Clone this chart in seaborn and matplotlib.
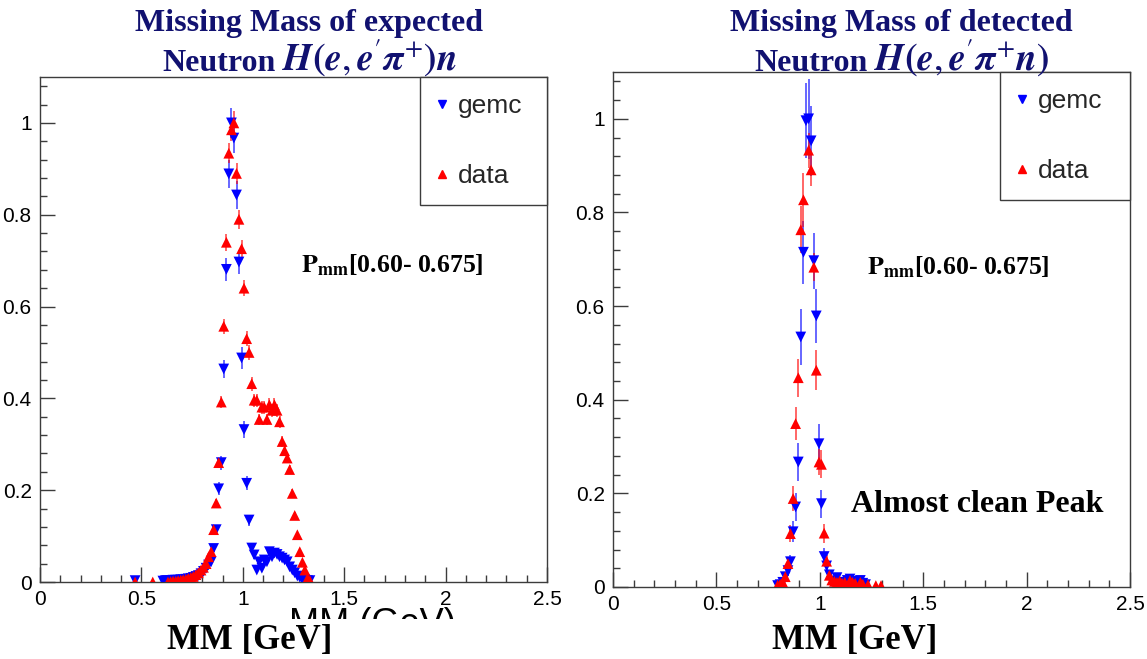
import numpy as np
import pandas as pd
import seaborn as sns
import matplotlib
matplotlib.use("Agg")
import matplotlib.pyplot as plt
from matplotlib.lines import Line2D
from matplotlib.patches import Rectangle
from matplotlib.ticker import MultipleLocator

# ---------------- data: left panel (expected neutron) ----------------
left_gemc_x = [0.469, 0.606, 0.619, 0.631, 0.644, 0.656, 0.669, 0.681, 0.694, 0.706,
               0.719, 0.731, 0.744, 0.756, 0.769, 0.781, 0.794, 0.806, 0.819, 0.831,
               0.844, 0.856, 0.869, 0.881, 0.894, 0.906, 0.919, 0.931, 0.944, 0.956,
               0.969, 0.981, 0.994, 1.006, 1.019, 1.031, 1.044, 1.056, 1.069, 1.081,
               1.094, 1.106, 1.119, 1.131, 1.144, 1.156, 1.169, 1.181, 1.194, 1.206,
               1.219, 1.231, 1.244, 1.256, 1.269, 1.281, 1.294, 1.306, 1.319, 1.331]
left_gemc_y = [0.003, 0.002, 0.003, 0.003, 0.003, 0.004, 0.004, 0.004, 0.005, 0.005,
               0.006, 0.007, 0.008, 0.010, 0.012, 0.014, 0.018, 0.023, 0.030, 0.037,
               0.044, 0.073, 0.114, 0.203, 0.260, 0.464, 0.681, 0.889, 1.000, 0.967,
               0.843, 0.697, 0.488, 0.332, 0.215, 0.135, 0.074, 0.059, 0.026, 0.044,
               0.030, 0.048, 0.044, 0.066, 0.055, 0.063, 0.060, 0.055, 0.052, 0.048,
               0.044, 0.033, 0.026, 0.020, 0.013, 0.010, 0.005, 0.005, 0.003, 0.003]
left_gemc_err = [0.002, 0.002, 0.002, 0.002, 0.002, 0.002, 0.002, 0.002, 0.002, 0.002,
                 0.002, 0.003, 0.003, 0.003, 0.003, 0.004, 0.004, 0.005, 0.005, 0.006,
                 0.006, 0.008, 0.010, 0.014, 0.015, 0.020, 0.025, 0.030, 0.033, 0.032,
                 0.030, 0.027, 0.023, 0.019, 0.015, 0.012, 0.009, 0.008, 0.005, 0.007,
                 0.006, 0.007, 0.007, 0.008, 0.007, 0.008, 0.008, 0.007, 0.007, 0.007,
                 0.007, 0.006, 0.005, 0.004, 0.004, 0.003, 0.002, 0.002, 0.002, 0.002]

left_data_x = [0.469, 0.556, 0.631, 0.644, 0.656, 0.669, 0.681, 0.694, 0.706, 0.719,
               0.731, 0.744, 0.756, 0.769, 0.781, 0.794, 0.806, 0.819, 0.831, 0.844,
               0.856, 0.869, 0.881, 0.894, 0.906, 0.919, 0.931, 0.944, 0.956, 0.969,
               0.981, 0.994, 1.006, 1.019, 1.031, 1.044, 1.056, 1.069, 1.081, 1.094,
               1.106, 1.119, 1.131, 1.144, 1.156, 1.169, 1.181, 1.194, 1.206, 1.219,
               1.231, 1.244, 1.256, 1.269, 1.281, 1.294, 1.306, 1.319, 1.331]
left_data_y = [0.000, 0.000, 0.000, 0.001, 0.002, 0.002, 0.003, 0.004, 0.005, 0.006,
               0.008, 0.010, 0.012, 0.016, 0.020, 0.026, 0.032, 0.040, 0.055, 0.066,
               0.114, 0.172, 0.260, 0.392, 0.557, 0.740, 0.934, 0.985, 1.000, 0.890,
               0.790, 0.726, 0.640, 0.530, 0.500, 0.432, 0.396, 0.396, 0.354, 0.381,
               0.381, 0.354, 0.386, 0.374, 0.386, 0.374, 0.349, 0.306, 0.286, 0.270,
               0.245, 0.193, 0.145, 0.103, 0.066, 0.043, 0.026, 0.008, 0.003]
left_data_err = [0.001, 0.001, 0.001, 0.001, 0.001, 0.001, 0.001, 0.001, 0.002, 0.002,
                 0.002, 0.002, 0.003, 0.003, 0.003, 0.004, 0.004, 0.005, 0.005, 0.006,
                 0.008, 0.009, 0.011, 0.013, 0.016, 0.019, 0.022, 0.024, 0.025, 0.022,
                 0.020, 0.019, 0.018, 0.016, 0.016, 0.015, 0.014, 0.014, 0.013, 0.014,
                 0.014, 0.013, 0.014, 0.014, 0.014, 0.014, 0.013, 0.012, 0.012, 0.011,
                 0.010, 0.009, 0.008, 0.007, 0.005, 0.004, 0.003, 0.002, 0.001]

# ---------------- data: right panel (detected neutron) ----------------
right_gemc_x = [0.796, 0.808, 0.821, 0.833, 0.846, 0.858, 0.871, 0.883, 0.896, 0.908,
                0.921, 0.933, 0.946, 0.958, 0.971, 0.983, 0.996, 1.008, 1.021, 1.033,
                1.046, 1.058, 1.071, 1.083, 1.096, 1.108, 1.121, 1.133, 1.146, 1.158,
                1.171, 1.183, 1.196, 1.208, 1.221]
right_gemc_y = [0.003, 0.005, 0.010, 0.022, 0.035, 0.054, 0.118, 0.171, 0.267, 0.534,
                0.715, 0.996, 1.000, 0.953, 0.697, 0.579, 0.306, 0.178, 0.065, 0.045,
                0.026, 0.012, 0.013, 0.020, 0.010, 0.008, 0.010, 0.014, 0.017, 0.012,
                0.010, 0.008, 0.014, 0.008, 0.005]
right_gemc_err = [0.003, 0.004, 0.006, 0.009, 0.012, 0.015, 0.022, 0.030, 0.041, 0.059,
                  0.067, 0.080, 0.085, 0.075, 0.060, 0.058, 0.043, 0.030, 0.018, 0.014,
                  0.011, 0.007, 0.007, 0.009, 0.006, 0.005, 0.006, 0.007, 0.008, 0.007,
                  0.006, 0.005, 0.007, 0.005, 0.004]

right_data_x = [0.796, 0.808, 0.821, 0.833, 0.846, 0.858, 0.871, 0.883, 0.896, 0.908,
                0.921, 0.946, 0.958, 0.971, 0.983, 0.996, 1.008, 1.021, 1.033, 1.046,
                1.058, 1.071, 1.083, 1.096, 1.108, 1.121, 1.146, 1.158, 1.171, 1.196,
                1.208, 1.233, 1.271, 1.296]
right_data_y = [0.004, 0.006, 0.010, 0.022, 0.050, 0.114, 0.189, 0.349, 0.447, 0.763,
                0.827, 0.933, 0.891, 0.683, 0.463, 0.267, 0.262, 0.115, 0.055, 0.025,
                0.015, 0.012, 0.010, 0.013, 0.008, 0.010, 0.014, 0.010, 0.008, 0.010,
                0.006, 0.005, 0.003, 0.003]
right_data_err = [0.003, 0.004, 0.006, 0.009, 0.013, 0.018, 0.027, 0.036, 0.041, 0.050,
                  0.058, 0.037, 0.035, 0.030, 0.043, 0.028, 0.030, 0.020, 0.013, 0.009,
                  0.007, 0.006, 0.006, 0.007, 0.005, 0.006, 0.007, 0.006, 0.005, 0.006,
                  0.004, 0.004, 0.003, 0.003]

series_labels = ["gemc", "data"]
x_ticks = [0, 0.5, 1, 1.5, 2, 2.5]
x_tick_labels = ["0", "0.5", "1", "1.5", "2", "2.5"]
y_ticks = [0, 0.2, 0.4, 0.6, 0.8, 1.0]
y_tick_labels = ["0", "0.2", "0.4", "0.6", "0.8", "1"]

title_line1 = ["Missing Mass of expected", "Missing Mass of detected"]
title_word = "Neutron"
title_math = [r"$\mathbfit{H}\mathbf{(}\mathbfit{e},\mathbfit{e}'\mathbfit{\pi}^{+}\mathbf{)}\mathbfit{n}$",
              r"$\mathbfit{H}\mathbf{(}\mathbfit{e},\mathbfit{e}'\mathbfit{\pi}^{+}\mathbfit{n}\mathbf{)}$"]
range_label = r"$\mathbf{P_{mm}}$[0.60- 0.675]"
x_label = "MM [GeV]"
note_label = "Almost clean Peak"

# ---------------- style ----------------
sns.set_theme(style="ticks")
plt.rcParams["font.family"] = ["Liberation Sans", "DejaVu Sans"]
plt.rcParams["mathtext.fontset"] = "stix"

BLUE = "#0000ff"
RED = "#ff0000"
NAVY = "#111170"
FRAME = "#3c3c3c"

W, H = 1147, 659
fig = plt.figure(figsize=(W / 100, H / 100), dpi=100)
fig.patch.set_facecolor("white")


def px_axes(x0, x1, ytop, ybot):
    return [x0 / W, (H - ybot) / H, (x1 - x0) / W, (ybot - ytop) / H]


ax_l = fig.add_axes(px_axes(40, 547, 77, 582))
ax_r = fig.add_axes(px_axes(613, 1130, 72, 587))


def draw_panel(ax, gx, gy, ge, dx, dy, de):
    df = pd.concat([
        pd.DataFrame({"mm": gx, "val": gy, "sample": series_labels[0]}),
        pd.DataFrame({"mm": dx, "val": dy, "sample": series_labels[1]}),
    ], ignore_index=True)
    ax.errorbar(gx, gy, yerr=ge, fmt="none", ecolor=BLUE, elinewidth=1.4,
                alpha=0.6, capsize=0, zorder=2)
    ax.errorbar(dx, dy, yerr=de, fmt="none", ecolor=RED, elinewidth=1.4,
                alpha=0.6, capsize=0, zorder=2)
    sns.scatterplot(data=df, x="mm", y="val", hue="sample", style="sample",
                    hue_order=series_labels, style_order=series_labels,
                    palette={"gemc": BLUE, "data": RED},
                    markers={"gemc": "v", "data": "^"},
                    s=60, linewidth=0, edgecolor="none", legend=False,
                    ax=ax, zorder=3)
    ax.set_xlim(0, 2.5)
    ax.set_ylim(0, 1.1)
    ax.set_xlabel("")
    ax.set_ylabel("")
    ax.set_xticks(x_ticks)
    ax.set_xticklabels(x_tick_labels)
    ax.set_yticks(y_ticks)
    ax.set_yticklabels(y_tick_labels)
    ax.xaxis.set_minor_locator(MultipleLocator(0.1))
    ax.yaxis.set_minor_locator(MultipleLocator(0.04))
    ax.tick_params(which="major", direction="in", length=11, width=1.0,
                   color=FRAME, labelsize=15, labelcolor="black")
    ax.tick_params(which="minor", direction="in", length=5, width=1.0, color=FRAME)
    ax.tick_params(axis="x", which="major", pad=6)
    ax.tick_params(axis="y", which="major", pad=6)
    for sp in ax.spines.values():
        sp.set_visible(True)
        sp.set_color(FRAME)
        sp.set_linewidth(1.0)
    handles = [
        Line2D([], [], linestyle="none", marker="v", color=BLUE, markersize=6),
        Line2D([], [], linestyle="none", marker="^", color=RED, markersize=6),
    ]
    return handles


handles = draw_panel(ax_l, left_gemc_x, left_gemc_y, left_gemc_err,
                     left_data_x, left_data_y, left_data_err)
draw_panel(ax_r, right_gemc_x, right_gemc_y, right_gemc_err,
           right_data_x, right_data_y, right_data_err)


def add_legend(ax, frac_x0):
    leg = ax.legend(handles, series_labels, loc="upper left",
                    bbox_to_anchor=(frac_x0, 0, 1 - frac_x0, 1.0), mode="expand",
                    borderaxespad=0, frameon=True, fancybox=False,
                    edgecolor=FRAME, framealpha=1, fontsize=19,
                    labelspacing=1.75, borderpad=0.65, handlelength=0.35,
                    handletextpad=0.45)
    leg.get_frame().set_linewidth(1.0)
    return leg


add_legend(ax_l, (420 - 40) / 507)
add_legend(ax_r, (1000 - 613) / 517)

# panel annotations
ax_l.text(1.285, 0.69, range_label, ha="left", va="center",
          family="Liberation Serif", weight="bold", fontsize=18.5, color="black")
ax_r.text(1.228, 0.684, range_label, ha="left", va="center",
          family="Liberation Serif", weight="bold", fontsize=18.5, color="black")
ax_r.text(1.15, 0.177, note_label, ha="left", va="center",
          family="Liberation Serif", weight="bold", fontsize=23, color="black")

# titles
for cx, word_end, line1, math in ((309, 276, title_line1[0], title_math[0]),
                                  (901, 868, title_line1[1], title_math[1])):
    fig.text(cx / W, 1 - 23 / H, line1, ha="center", va="center",
             family="Liberation Serif", weight="bold", fontsize=23, color=NAVY)
    fig.text(word_end / W, 1 - 71 / H, title_word, ha="right", va="baseline",
             family="Liberation Serif", weight="bold", fontsize=23, color=NAVY)
    fig.text((word_end + 6) / W, 1 - 71 / H, math, ha="left", va="baseline",
             fontsize=27, color=NAVY)

# partially hidden original axis title behind the white strip
fig.text(372 / W, 1 - 624 / H, "MM (GeV)", ha="center", va="center",
         fontsize=26, color="black", zorder=3)
fig.patches.append(Rectangle((270 / W, 0), 220 / W, 1 - 619 / H,
                             transform=fig.transFigure, facecolor="white",
                             edgecolor="none", zorder=4))

# x-axis labels
for cx in (250, 855):
    fig.text(cx / W, 1 - 641 / H, x_label, ha="center", va="center",
             family="Liberation Serif", weight="bold", fontsize=25,
             color="black", zorder=5)

fig.savefig("out.png", dpi=100, facecolor="white")
